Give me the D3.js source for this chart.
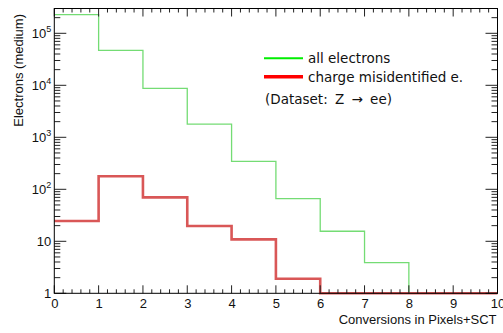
<!DOCTYPE html>
<html>
<head>
<meta charset="utf-8">
<script src="https://cdn.jsdelivr.net/npm/d3@7"></script>
<style>
  html, body { margin: 0; padding: 0; background: #fff; }
  svg { display: block; }
</style>
</head>
<body>
<svg id="chart" width="503" height="333"></svg>
<script>
// Bin edges: number of conversions in Pixels+SCT
const binEdges = [0, 1, 2, 3, 4, 5, 6, 7, 8, 9, 10];
// Electron counts per bin
const allElectrons = [228000, 47100, 8750, 1800, 343, 66, 15.6, 3.9, 0, 0];
const chargeMisId = [24.6, 178, 70, 19.7, 10.9, 1.9, 0, 0, 0, 0];
// Tick labels
const xTickLabels = ["0", "1", "2", "3", "4", "5", "6", "7", "8", "9", "10"];
const yTickValues = [1, 10, 100, 1000, 10000, 100000];
const yTickBase = ["1", "10", "10", "10", "10", "10"];
const yTickExp = ["", "", "2", "3", "4", "5"];
const legendLabels = ["all electrons", "charge misidentified e.", "(Dataset: Z \u2192 ee)"];

const svg = d3.select("#chart");
const frameL = 54.3, frameR = 497.5, frameT = 8.5, frameB = 293.3;

const x = d3.scaleLinear().domain([0, 10]).range([frameL, frameR]);
const y = d3.scaleLog().domain([1, 3e5]).range([frameB, frameT]);

const axisFont = "'Liberation Sans', Arial, Helvetica, sans-serif";
const tickColor = "#222";

// Step outline of a histogram; empty bins sit on the lower edge of the frame
function stepPath(values) {
  const p = d3.path();
  values.forEach((v, i) => {
    const yy = y(Math.max(v, 1));
    if (i === 0) p.moveTo(x(binEdges[0]), yy); else p.lineTo(x(binEdges[i]), yy);
    p.lineTo(x(binEdges[i + 1]), yy);
  });
  return p.toString();
}

const plot = svg.append("g");
plot.append("path").attr("d", stepPath(allElectrons))
  .attr("fill", "none").attr("stroke", "#74dc74").attr("stroke-width", 1.3);
plot.append("path").attr("d", stepPath(chargeMisId))
  .attr("fill", "none").attr("stroke", "#d95757").attr("stroke-width", 2.6);

// Bottom axis, with minor ticks every 0.2
const xMinor = d3.range(0, 10.001, 0.2).filter(v => Math.abs(v - Math.round(v)) > 1e-6);
const xAxis = d3.axisBottom(x).tickValues(d3.range(0, 11)).tickSize(0)
  .tickFormat((d, i) => xTickLabels[i]).tickPadding(5.5);
const gx = svg.append("g").attr("transform", `translate(0,${frameB})`).call(xAxis);
gx.select(".domain").remove();
gx.selectAll("text").attr("font-family", axisFont).attr("font-size", 13).attr("fill", "#111");

function drawXTicks(yBase, dir) {
  const g = svg.append("g").attr("stroke", tickColor).attr("stroke-width", 1);
  d3.range(0, 11).forEach(v => g.append("line")
    .attr("x1", x(v)).attr("x2", x(v)).attr("y1", yBase).attr("y2", yBase + dir * 8));
  xMinor.forEach(v => g.append("line")
    .attr("x1", x(v)).attr("x2", x(v)).attr("y1", yBase).attr("y2", yBase + dir * 4));
}
drawXTicks(frameB, -1);
drawXTicks(frameT, 1);

// Left axis, log scale with minor ticks 2..9 in each decade
const yMinor = [];
for (let d = 1; d <= 1e5; d *= 10) for (let k = 2; k <= 9; k++) if (d * k <= 3e5) yMinor.push(d * k);

function drawYTicks(xBase, dir) {
  const g = svg.append("g").attr("stroke", tickColor).attr("stroke-width", 1);
  yTickValues.forEach(v => g.append("line")
    .attr("x1", xBase).attr("x2", xBase + dir * 12).attr("y1", y(v)).attr("y2", y(v)));
  yMinor.forEach(v => g.append("line")
    .attr("x1", xBase).attr("x2", xBase + dir * 6).attr("y1", y(v)).attr("y2", y(v)));
}
drawYTicks(frameL, 1);
drawYTicks(frameR, -1);

const yAxis = d3.axisLeft(y).tickValues(yTickValues).tickSize(0).tickFormat("");
svg.append("g").attr("transform", `translate(${frameL},0)`).call(yAxis).select(".domain").remove();

const yLabels = svg.append("g").attr("font-family", axisFont).attr("fill", "#111");
yTickValues.forEach((v, i) => {
  const t = yLabels.append("text")
    .attr("x", frameL - 3).attr("y", y(v) + 5)
    .attr("text-anchor", "end").attr("font-size", 13);
  t.append("tspan").text(yTickBase[i]);
  if (yTickExp[i]) t.append("tspan").attr("font-size", 9).attr("dy", -6).text(yTickExp[i]);
});

// Frame
svg.append("rect").attr("x", frameL).attr("y", frameT)
  .attr("width", frameR - frameL).attr("height", frameB - frameT)
  .attr("fill", "none").attr("stroke", "#000").attr("stroke-width", 1);

// Axis titles
svg.append("text").attr("font-family", axisFont).attr("font-size", 13).attr("fill", "#111")
  .attr("text-anchor", "end").attr("x", frameR - 1).attr("y", 324)
  .text("Conversions in Pixels+SCT");
svg.append("text").attr("font-family", axisFont).attr("font-size", 13).attr("fill", "#111")
  .attr("text-anchor", "end").attr("transform", `translate(23,14) rotate(-90)`)
  .text("Electrons (medium)");

// Legend
const legFont = "'DejaVu Sans', sans-serif";
const leg = svg.append("g");
leg.append("line").attr("x1", 264).attr("x2", 303).attr("y1", 58.3).attr("y2", 58.3)
  .attr("stroke", "#00ee00").attr("stroke-width", 2);
leg.append("line").attr("x1", 264).attr("x2", 303).attr("y1", 76.7).attr("y2", 76.7)
  .attr("stroke", "#ff0000").attr("stroke-width", 3.5);
[[308, 63, 0], [308, 81.5, 0], [265, 104, 3]].forEach((pos, i) => {
  leg.append("text").attr("x", pos[0]).attr("y", pos[1])
    .attr("font-family", legFont).attr("font-size", 13.5).attr("fill", "#111")
    .attr("word-spacing", pos[2])
    .text(legendLabels[i]);
});
</script>
</body>
</html>
